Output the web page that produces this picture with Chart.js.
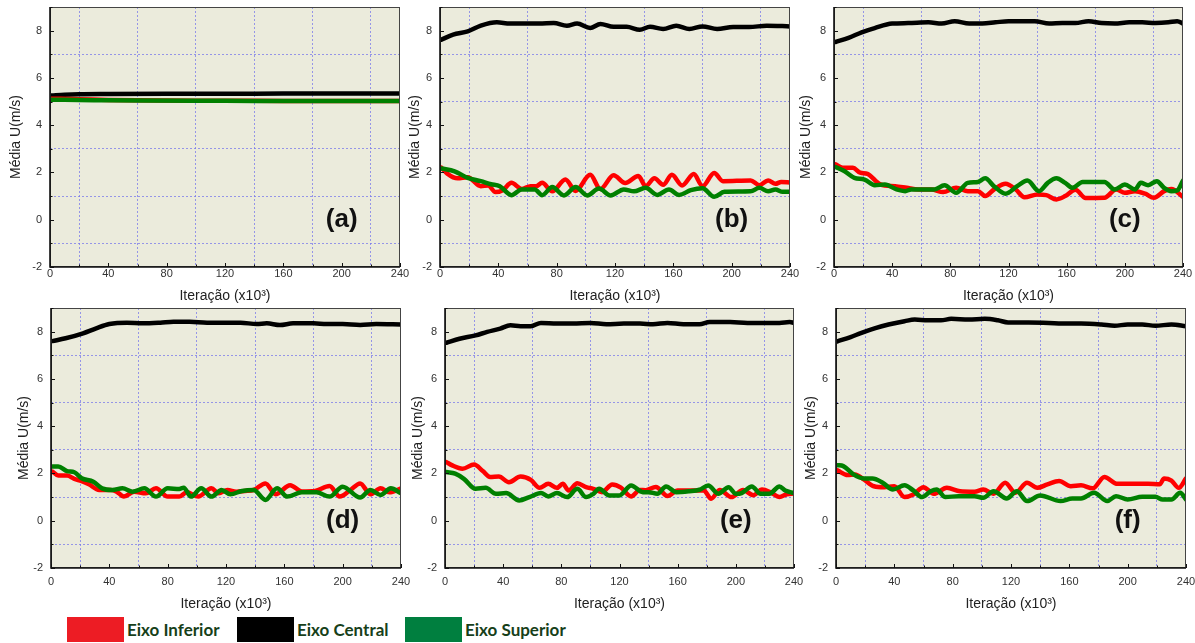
<!DOCTYPE html>
<html>
<head>
<meta charset="utf-8">
<script src="https://cdn.jsdelivr.net/npm/chart.js"></script>
<style>
  body { margin: 0; width: 1195px; height: 643px; background: #fff; position: relative; overflow: hidden; }
  canvas { position: absolute; }
  .legbox { position: absolute; top: 617px; width: 57px; height: 25px; }
  .legtxt { position: absolute; top: 619px; font: bold 17px Lato, "Open Sans", sans-serif; color: #173f1a; white-space: nowrap; }
</style>
</head>
<body>
<div class="legbox" style="left:67px;background:#ed1c24"></div>
<div class="legtxt" style="left:127px">Eixo Inferior</div>
<div class="legbox" style="left:237px;background:#000"></div>
<div class="legtxt" style="left:297px">Eixo Central</div>
<div class="legbox" style="left:405px;background:#007f3f"></div>
<div class="legtxt" style="left:465px">Eixo Superior</div>

<script>
// series names / labels
const seriesNames = ['Eixo Inferior', 'Eixo Central', 'Eixo Superior'];
const panelLabels = ['(a)', '(b)', '(c)', '(d)', '(e)', '(f)'];
const xTicks = [0, 40, 80, 120, 160, 200, 240];
const yTicks = [-2, 0, 2, 4, 6, 8];

// (a)
const aInfX = [1, 20, 40, 60, 100, 140, 180, 240];
const aInfY = [5.12, 5.10, 5.07, 5.05, 5.03, 5.03, 5.02, 5.02];
const aCenX = [1, 10, 20, 40, 80, 120, 160, 200, 240];
const aCenY = [5.26, 5.29, 5.31, 5.32, 5.33, 5.33, 5.34, 5.34, 5.34];
const aSupX = [1, 30, 60, 120, 180, 240];
const aSupY = [5.08, 5.06, 5.04, 5.03, 5.02, 5.02];

// (b)
const bInfX = [1, 5, 12, 19, 28, 33, 38, 43, 49, 56, 62, 66, 70, 77, 86, 93, 103, 110, 119, 127, 136, 141, 147, 153, 159, 166, 174, 180, 188, 194, 213, 219, 225, 230, 234, 240];
const bInfY = [2.2, 1.95, 1.75, 1.8, 1.42, 1.45, 1.17, 1.25, 1.56, 1.3, 1.42, 1.42, 1.56, 1.2, 1.7, 1.22, 1.9, 1.3, 1.88, 1.55, 1.85, 1.42, 1.75, 1.48, 1.9, 1.45, 1.93, 1.42, 1.98, 1.63, 1.66, 1.46, 1.66, 1.52, 1.6, 1.58];
const bCenX = [1, 9, 19, 28, 39, 48, 57, 68, 78, 87, 94, 103, 110, 119, 128, 137, 144, 153, 162, 171, 180, 190, 201, 212, 224, 240];
const bCenY = [7.62, 7.83, 7.97, 8.21, 8.35, 8.3, 8.3, 8.3, 8.32, 8.21, 8.3, 8.11, 8.28, 8.16, 8.16, 8.04, 8.16, 8.07, 8.21, 8.07, 8.18, 8.07, 8.15, 8.15, 8.21, 8.18];
const bSupX = [1, 10, 19, 28, 35, 41, 49, 56, 65, 70, 77, 85, 93, 101, 109, 117, 126, 133, 141, 149, 157, 164, 172, 180, 188, 195, 213, 219, 225, 230, 235, 240];
const bSupY = [2.17, 2.05, 1.77, 1.63, 1.5, 1.42, 1.04, 1.28, 1.28, 1.04, 1.38, 1.03, 1.38, 1.03, 1.32, 1.03, 1.28, 1.2, 1.35, 1.05, 1.28, 1.05, 1.25, 1.33, 0.97, 1.18, 1.2, 1.35, 1.2, 1.28, 1.18, 1.18];

// (c)
const cInfX = [1, 6, 13, 18, 23, 32, 42, 50, 58, 67, 75, 84, 92, 99, 104, 110, 118, 125, 131, 140, 146, 153, 159, 166, 173, 186, 194, 200, 207, 214, 220, 227, 232, 240];
const cInfY = [2.34, 2.2, 2.2, 1.99, 1.94, 1.49, 1.42, 1.35, 1.28, 1.28, 1.17, 1.35, 1.21, 1.21, 1.0, 1.28, 1.52, 1.28, 0.95, 1.07, 1.04, 0.86, 1.0, 1.27, 0.92, 0.93, 1.28, 1.14, 1.21, 1.1, 0.93, 1.21, 1.3, 0.97];
const cCenX = [1, 10, 19, 28, 40, 51, 65, 74, 83, 93, 102, 111, 120, 129, 138, 148, 157, 166, 175, 184, 193, 203, 212, 221, 230, 236, 240];
const cCenY = [7.52, 7.69, 7.93, 8.11, 8.3, 8.32, 8.35, 8.3, 8.4, 8.3, 8.3, 8.35, 8.4, 8.4, 8.4, 8.3, 8.32, 8.32, 8.4, 8.32, 8.3, 8.35, 8.35, 8.32, 8.35, 8.4, 8.3];
const cSupX = [1, 7, 14, 21, 28, 35, 43, 49, 53, 60, 69, 76, 84, 92, 99, 104, 110, 118, 126, 133, 141, 147, 153, 159, 164, 171, 181, 186, 193, 200, 207, 211, 216, 222, 227, 232, 236, 240];
const cSupY = [2.23, 2.06, 1.77, 1.7, 1.46, 1.49, 1.28, 1.21, 1.28, 1.28, 1.28, 1.46, 1.14, 1.56, 1.6, 1.75, 1.42, 1.1, 1.42, 1.66, 1.21, 1.56, 1.75, 1.56, 1.35, 1.6, 1.6, 1.6, 1.28, 1.49, 1.28, 1.56, 1.46, 1.63, 1.35, 1.21, 1.24, 1.65];

// (d)
const dInfX = [1, 5, 11, 16, 21, 26, 33, 41, 45, 50, 57, 65, 72, 80, 88, 93, 101, 110, 115, 121, 127, 133, 139, 147, 154, 164, 172, 181, 191, 198, 205, 212, 219, 226, 232, 240];
const dInfY = [2.08, 1.91, 1.91, 1.77, 1.68, 1.54, 1.3, 1.3, 1.23, 1.02, 1.23, 1.16, 1.37, 1.02, 1.02, 1.2, 1.02, 1.37, 1.16, 1.3, 1.23, 1.26, 1.3, 1.58, 1.12, 1.5, 1.24, 1.26, 1.47, 1.02, 1.28, 1.58, 1.12, 1.37, 1.2, 1.37];
const dCenX = [1, 10, 22, 31, 40, 52, 63, 75, 84, 95, 107, 118, 130, 141, 148, 157, 166, 180, 189, 200, 212, 223, 240];
const dCenY = [7.6, 7.72, 7.93, 8.14, 8.32, 8.38, 8.35, 8.38, 8.42, 8.42, 8.38, 8.38, 8.38, 8.32, 8.35, 8.28, 8.35, 8.35, 8.32, 8.32, 8.28, 8.32, 8.3];
const dSupX = [1, 5, 11, 16, 21, 29, 35, 42, 49, 56, 64, 72, 80, 88, 91, 96, 103, 110, 117, 123, 131, 139, 147, 155, 162, 172, 182, 191, 200, 212, 219, 226, 233, 240];
const dSupY = [2.29, 2.29, 2.1, 2.05, 1.8, 1.65, 1.37, 1.3, 1.37, 1.23, 1.37, 1.02, 1.37, 1.34, 1.4, 1.02, 1.37, 1.02, 1.3, 1.12, 1.26, 1.3, 0.88, 1.37, 1.02, 1.2, 1.2, 1.02, 1.44, 0.98, 1.3, 1.09, 1.37, 1.16];

// (e)
const eInfX = [1, 5, 12, 20, 26, 31, 37, 44, 52, 59, 65, 71, 77, 81, 85, 91, 97, 102, 108, 115, 121, 128, 134, 138, 145, 153, 160, 170, 178, 183, 189, 197, 205, 212, 218, 224, 230, 235, 240];
const eInfY = [2.48, 2.34, 2.2, 2.38, 2.1, 1.85, 1.87, 1.63, 1.87, 1.73, 1.39, 1.56, 1.39, 1.56, 1.28, 1.59, 1.42, 1.35, 1.21, 1.53, 1.4, 1.03, 1.3, 1.29, 1.43, 1.05, 1.28, 1.28, 1.28, 0.93, 1.3, 1.0, 1.3, 1.08, 1.32, 1.2, 1.0, 1.12, 1.15];
const eCenX = [1, 10, 21, 29, 38, 45, 52, 59, 66, 77, 88, 100, 111, 123, 134, 143, 153, 164, 175, 182, 196, 208, 219, 230, 237, 240];
const eCenY = [7.53, 7.7, 7.84, 7.99, 8.13, 8.27, 8.23, 8.23, 8.37, 8.34, 8.34, 8.37, 8.31, 8.34, 8.34, 8.31, 8.37, 8.31, 8.31, 8.41, 8.41, 8.37, 8.37, 8.37, 8.41, 8.37];
const eSupX = [1, 7, 13, 21, 28, 35, 42, 51, 58, 66, 71, 77, 84, 91, 97, 102, 106, 113, 120, 128, 136, 140, 146, 152, 159, 168, 175, 181, 188, 195, 200, 204, 211, 217, 223, 230, 234, 240];
const eSupY = [2.06, 1.99, 1.77, 1.35, 1.39, 1.14, 1.17, 0.86, 1.0, 1.17, 1.03, 1.17, 1.0, 1.35, 1.0, 1.14, 1.35, 1.07, 1.07, 1.49, 1.21, 1.21, 1.14, 1.45, 1.21, 1.25, 1.31, 1.49, 1.14, 1.42, 1.14, 1.17, 1.45, 1.14, 1.14, 1.45, 1.28, 1.17];

// (f)
const fInfX = [1, 8, 13, 19, 26, 33, 40, 47, 53, 60, 67, 76, 85, 95, 101, 108, 116, 123, 131, 138, 145, 153, 161, 168, 176, 184, 193, 204, 214, 222, 225, 230, 235, 240];
const fInfY = [2.13, 1.93, 1.96, 1.75, 1.46, 1.42, 1.46, 1.0, 1.11, 1.42, 1.14, 1.39, 1.25, 1.23, 1.32, 1.14, 1.61, 1.18, 1.61, 1.39, 1.54, 1.68, 1.46, 1.5, 1.37, 1.85, 1.56, 1.56, 1.56, 1.54, 1.79, 1.7, 1.39, 1.79];
const fCenX = [1, 10, 17, 27, 36, 47, 54, 63, 72, 79, 91, 102, 111, 118, 132, 146, 155, 168, 182, 191, 200, 210, 219, 230, 240];
const fCenY = [7.59, 7.77, 7.94, 8.15, 8.3, 8.44, 8.51, 8.48, 8.48, 8.54, 8.51, 8.54, 8.48, 8.39, 8.39, 8.37, 8.34, 8.34, 8.3, 8.25, 8.3, 8.3, 8.25, 8.3, 8.23];
const fSupX = [1, 5, 12, 19, 25, 32, 39, 47, 53, 59, 65, 69, 75, 84, 95, 101, 108, 117, 124, 131, 140, 154, 162, 168, 177, 186, 192, 200, 210, 219, 224, 230, 236, 240];
const fSupY = [2.35, 2.31, 1.96, 1.79, 1.79, 1.61, 1.32, 1.5, 1.28, 1.0, 1.25, 1.32, 1.0, 1.04, 1.04, 0.97, 1.25, 0.94, 1.25, 0.83, 1.07, 0.83, 0.94, 0.94, 1.18, 0.83, 1.04, 0.9, 1.01, 1.01, 0.9, 0.9, 1.18, 0.9];

// layout: plot area box [left, right, top, bottom] and title offsets
const layout = [
  { box: [50, 400, 7, 267],   yTitlePad: 8,  xTickPad: 0, xTitlePad: 10.6 },
  { box: [440, 790, 7, 267],  yTitlePad: 17, xTickPad: 0, xTitlePad: 10.6 },
  { box: [834, 1183, 7, 267], yTitlePad: 13.5, xTickPad: 0, xTitlePad: 10.6 },
  { box: [51, 401, 308, 568], yTitlePad: 15, xTickPad: 7, xTitlePad: 3.1 },
  { box: [445, 794, 308, 568], yTitlePad: 14.5, xTickPad: 7, xTitlePad: 3.1 },
  { box: [836, 1186, 308, 568], yTitlePad: 17, xTickPad: 7, xTitlePad: 3.1 }
];

const panelData = [
  [[aInfX, aInfY], [aCenX, aCenY], [aSupX, aSupY]],
  [[bInfX, bInfY], [bCenX, bCenY], [bSupX, bSupY]],
  [[cInfX, cInfY], [cCenX, cCenY], [cSupX, cSupY]],
  [[dInfX, dInfY], [dCenX, dCenY], [dSupX, dSupY]],
  [[eInfX, eInfY], [eCenX, eCenY], [eSupX, eSupY]],
  [[fInfX, fInfY], [fCenX, fCenY], [fSupX, fSupY]]
];

const lineColors = ['#ff0000', '#000000', '#008000'];
const drawOrder = [1, 2, 0]; // green on top

function toPoints(xs, ys) {
  return xs.map((x, i) => ({ x: x, y: ys[i] }));
}

// plot background, frame, inward ticks, panel letter
const framePlugin = {
  id: 'frame',
  beforeDraw(chart) {
    const a = chart.chartArea, ctx = chart.ctx;
    ctx.save();
    ctx.fillStyle = '#ebebdc';
    ctx.fillRect(a.left, a.top, a.right - a.left, a.bottom - a.top);
    ctx.restore();
  },
  afterDatasetsDraw(chart) {
    const a = chart.chartArea, ctx = chart.ctx;
    const xs = chart.scales.x, ys = chart.scales.y;
    ctx.save();
    ctx.strokeStyle = '#444';
    ctx.lineWidth = 1;
    ctx.strokeRect(a.left + 0.5, a.top + 0.5, a.right - a.left - 1, a.bottom - a.top - 1);
    ctx.strokeStyle = '#111';
    ctx.lineWidth = 1.6;
    ctx.beginPath();
    ctx.moveTo(a.left, a.top);
    ctx.lineTo(a.left, a.bottom);
    ctx.lineTo(a.right, a.bottom);
    ctx.stroke();
    ctx.lineWidth = 1;
    ctx.beginPath();
    for (let v = 0; v <= 240; v += 20) {
      const px = Math.round(xs.getPixelForValue(v)) + 0.5;
      const len = v % 40 === 0 ? 4 : 2.5;
      ctx.moveTo(px, a.bottom);
      ctx.lineTo(px, a.bottom - len);
    }
    for (let v = -2; v <= 9; v += 1) {
      const py = Math.round(ys.getPixelForValue(v)) + 0.5;
      const len = v % 2 === 0 ? 4 : 2.5;
      ctx.moveTo(a.left, py);
      ctx.lineTo(a.left + len, py);
    }
    ctx.stroke();
    const lbl = chart.options.plugins.frame.label;
    ctx.fillStyle = '#111';
    ctx.font = 'bold 26px Arial, "Liberation Sans", sans-serif';
    ctx.textAlign = 'center';
    ctx.textBaseline = 'middle';
    ctx.fillText(lbl, xs.getPixelForValue(200), ys.getPixelForValue(0));
    ctx.restore();
  }
};

const gridBlue = 'rgba(120,120,235,0.75)';

layout.forEach((p, i) => {
  const [l, r, t, b] = p.box;
  const cv = document.createElement('canvas');
  const w = r - l + 60, h = b - t + 55;
  cv.width = w; cv.height = h;
  cv.style.left = (l - 50) + 'px';
  cv.style.top = (t - 7) + 'px';
  cv.style.width = w + 'px';
  cv.style.height = h + 'px';
  document.body.appendChild(cv);

  const datasets = panelData[i].map((s, k) => ({
    label: seriesNames[k],
    data: toPoints(s[0], s[1]),
    borderColor: lineColors[k],
    backgroundColor: lineColors[k],
    borderWidth: 4.5,
    pointRadius: 0,
    cubicInterpolationMode: 'monotone',
    borderCapStyle: 'round',
    borderJoinStyle: 'round',
    order: drawOrder[k]
  }));

  new Chart(cv, {
    type: 'line',
    data: { datasets: datasets },
    options: {
      responsive: false,
      animation: false,
      devicePixelRatio: 1,
      layout: { padding: { left: 0, top: 7, right: 10, bottom: 0 } },
      plugins: {
        legend: { display: false },
        tooltip: { enabled: false },
        frame: { label: panelLabels[i] }
      },
      scales: {
        x: {
          type: 'linear',
          min: 0, max: 240,
          afterFit(s) { s.height = 48; s.paddingLeft = 0; s.paddingRight = 0; },
          afterBuildTicks(s) {
            const arr = [];
            for (let v = 0; v <= 240; v += 20) arr.push({ value: v });
            s.ticks = arr;
          },
          ticks: {
            autoSkip: false,
            maxRotation: 0,
            padding: p.xTickPad,
            color: '#333',
            font: { family: 'Arial, "Liberation Sans", sans-serif', size: 11 },
            callback: v => (xTicks.includes(v) ? String(v) : '')
          },
          grid: {
            drawTicks: false,
            lineWidth: 1,
            color: c => (c.tick && c.tick.value % 40 === 20 ? gridBlue : 'rgba(0,0,0,0)')
          },
          border: { display: false, dash: [2, 2] },
          title: {
            display: true,
            text: 'Iteração (x10³)',
            color: '#222',
            font: { family: 'Arial, "Liberation Sans", sans-serif', size: 14 },
            padding: { top: 0, bottom: p.xTitlePad }
          }
        },
        y: {
          type: 'linear',
          min: -2, max: 9,
          afterFit(s) { s.width = 50; s.paddingTop = 0; s.paddingBottom = 0; },
          afterBuildTicks(s) {
            const arr = [];
            for (let v = -2; v <= 9; v += 1) arr.push({ value: v });
            s.ticks = arr;
          },
          ticks: {
            autoSkip: false,
            padding: 8,
            color: '#333',
            font: { family: 'Arial, "Liberation Sans", sans-serif', size: 11 },
            callback: v => (yTicks.includes(v) ? String(v) : '')
          },
          grid: {
            drawTicks: false,
            lineWidth: 1,
            color: c => (c.tick && Math.abs(c.tick.value % 2) === 1 && c.tick.value < 9 ? gridBlue : 'rgba(0,0,0,0)')
          },
          border: { display: false, dash: [2, 2] },
          title: {
            display: true,
            text: 'Média U(m/s)',
            color: '#222',
            font: { family: 'Arial, "Liberation Sans", sans-serif', size: 14 },
            padding: { top: p.yTitlePad, bottom: 0 }
          }
        }
      }
    },
    plugins: [framePlugin]
  });
});
</script>
</body>
</html>
